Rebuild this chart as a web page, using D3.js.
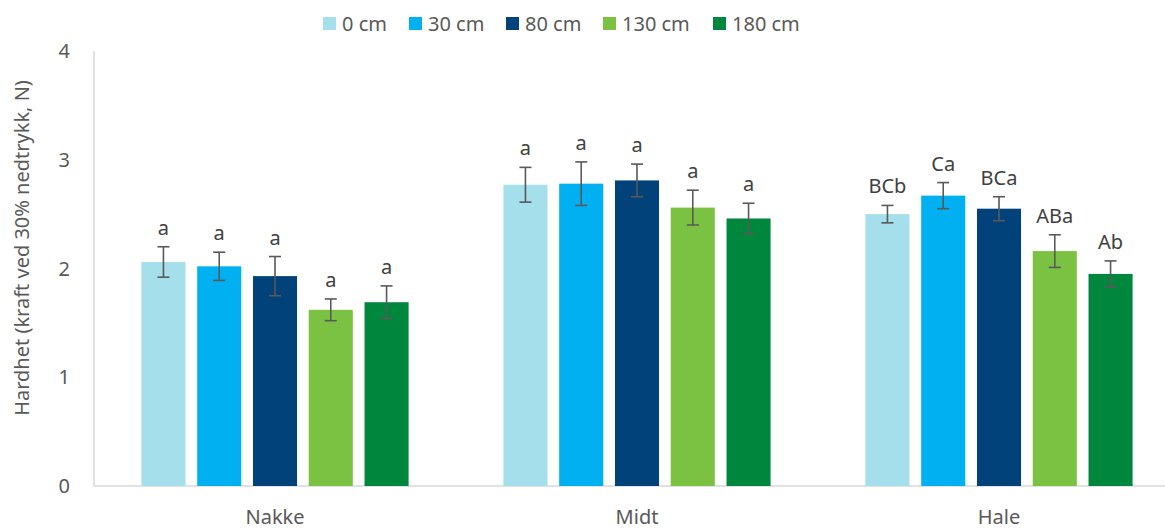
<!DOCTYPE html>
<html>
<head>
	<meta charset="utf-8">
	<title>Hardhet</title>
	<script src="https://d3js.org/d3.v7.min.js"></script>
	<style>
		body { margin: 0; background: #fff; }
		text { font-family: "Noto Sans", "Open Sans", sans-serif; }
	</style>
</head>
<body>
	<div class="chart"></div>

	<script type="text/javascript">

		var categories = ['Nakke', 'Midt', 'Hale']
		var seriesNames = ['0 cm', '30 cm', '80 cm', '130 cm', '180 cm']
		var colors = ['#a5dfeb', '#00b0f0', '#004279', '#7bc142', '#00873e']

		// middelverdier per serie (rekkefølge: Nakke, Midt, Hale)
		var values = [
			[2.06, 2.77, 2.50],
			[2.02, 2.78, 2.67],
			[1.93, 2.81, 2.55],
			[1.62, 2.56, 2.16],
			[1.69, 2.46, 1.95]
		]
		// standardfeil
		var errors = [
			[0.14, 0.16, 0.08],
			[0.13, 0.20, 0.12],
			[0.18, 0.15, 0.11],
			[0.10, 0.16, 0.15],
			[0.15, 0.14, 0.12]
		]
		var letters = [
			['a', 'a', 'BCb'],
			['a', 'a', 'Ca'],
			['a', 'a', 'BCa'],
			['a', 'a', 'ABa'],
			['a', 'a', 'Ab']
		]
		var yTicks = [0, 1, 2, 3, 4]

		var W = 1165
		var H = 529
		var plotLeft = 94
		var plotBottom = 486
		var plotTop = 51

		var svg = d3.select('.chart')
			.append('svg')
			.attr('width', W)
			.attr('height', H)

		/**
		 * skalaer
		 */
		var x0 = d3.scaleBand()
			.domain(categories)
			.range([plotLeft, plotLeft + 3 * 362])

		var x1 = d3.scaleBand()
			.domain(seriesNames)
			.range([0, x0.bandwidth()])
			.paddingInner(0.21)
			.paddingOuter(0.85)

		var y = d3.scaleLinear()
			.domain([0, 4])
			.range([plotBottom, plotTop])

		// flat datatabell
		var rows = []
		seriesNames.forEach((s, si) => {
			categories.forEach((c, ci) => {
				rows.push({
					cat: c,
					series: s,
					si: si,
					value: values[si][ci],
					err: errors[si][ci],
					letter: letters[si][ci]
				})
			})
		})

		/**
		 * akser
		 */
		svg.append('line')
			.attr('x1', plotLeft).attr('x2', W)
			.attr('y1', y(0)).attr('y2', y(0))
			.attr('stroke', '#d9d9d9')
			.attr('stroke-width', 1.5)

		svg.append('line')
			.attr('x1', plotLeft).attr('x2', plotLeft)
			.attr('y1', y(0)).attr('y2', y(4))
			.attr('stroke', '#d9d9d9')
			.attr('stroke-width', 1.5)

		svg.selectAll('.ytick')
			.data(yTicks)
			.enter()
			.append('text')
			.attr('class', 'ytick')
			.attr('x', plotLeft - 24)
			.attr('y', (d) => y(d))
			.attr('dy', '0.35em')
			.attr('text-anchor', 'end')
			.attr('fill', '#595959')
			.style('font-size', '20px')
			.text((d) => d)

		svg.selectAll('.xlabel')
			.data(categories)
			.enter()
			.append('text')
			.attr('class', 'xlabel')
			.attr('x', (d) => x0(d) + x0.bandwidth() / 2)
			.attr('y', 524)
			.attr('text-anchor', 'middle')
			.attr('fill', '#595959')
			.style('font-size', '20px')
			.text((d) => d)

		svg.append('text')
			.attr('transform', `translate(29, 248) rotate(-90)`)
			.attr('text-anchor', 'middle')
			.attr('fill', '#595959')
			.style('font-size', '20px')
			.text('Hardhet (kraft ved 30% nedtrykk, N)')

		/**
		 * søyler
		 */
		svg.selectAll('.bar')
			.data(rows)
			.enter()
			.append('rect')
			.attr('class', 'bar')
			.attr('x', (d) => x0(d.cat) + x1(d.series))
			.attr('width', x1.bandwidth())
			.attr('y', (d) => y(d.value))
			.attr('height', (d) => y(0) - y(d.value))
			.attr('fill', (d) => colors[d.si])

		// feilstolper
		var eb = svg.selectAll('.err')
			.data(rows)
			.enter()
			.append('g')
			.attr('class', 'err')
			.attr('transform', (d) => `translate(${x0(d.cat) + x1(d.series) + x1.bandwidth() / 2}, 0)`)
			.attr('stroke', '#595959')
			.attr('stroke-width', 1.6)

		eb.append('line')
			.attr('y1', (d) => y(d.value + d.err))
			.attr('y2', (d) => y(d.value - d.err))
		eb.append('line')
			.attr('x1', -6).attr('x2', 6)
			.attr('y1', (d) => y(d.value + d.err))
			.attr('y2', (d) => y(d.value + d.err))
		eb.append('line')
			.attr('x1', -6).attr('x2', 6)
			.attr('y1', (d) => y(d.value - d.err))
			.attr('y2', (d) => y(d.value - d.err))

		// bokstaver
		svg.selectAll('.letter')
			.data(rows)
			.enter()
			.append('text')
			.attr('class', 'letter')
			.attr('x', (d) => x0(d.cat) + x1(d.series) + x1.bandwidth() / 2)
			.attr('y', (d) => y(d.value + d.err) - 12)
			.attr('text-anchor', 'middle')
			.attr('fill', '#404040')
			.style('font-size', '20px')
			.text((d) => d.letter)

		/**
		 * legend
		 */
		var legendX = [323, 409, 506, 603, 713]
		var legend = svg.selectAll('.legend')
			.data(seriesNames)
			.enter()
			.append('g')
			.attr('class', 'legend')
			.attr('transform', (d, i) => `translate(${legendX[i]}, 17)`)

		legend.append('rect')
			.attr('width', 13)
			.attr('height', 13)
			.attr('fill', (d, i) => colors[i])

		legend.append('text')
			.attr('x', 19)
			.attr('y', 6.5)
			.attr('dy', '0.35em')
			.attr('fill', '#595959')
			.style('font-size', '20px')
			.text((d) => d)

	</script>
</body>
</html>
